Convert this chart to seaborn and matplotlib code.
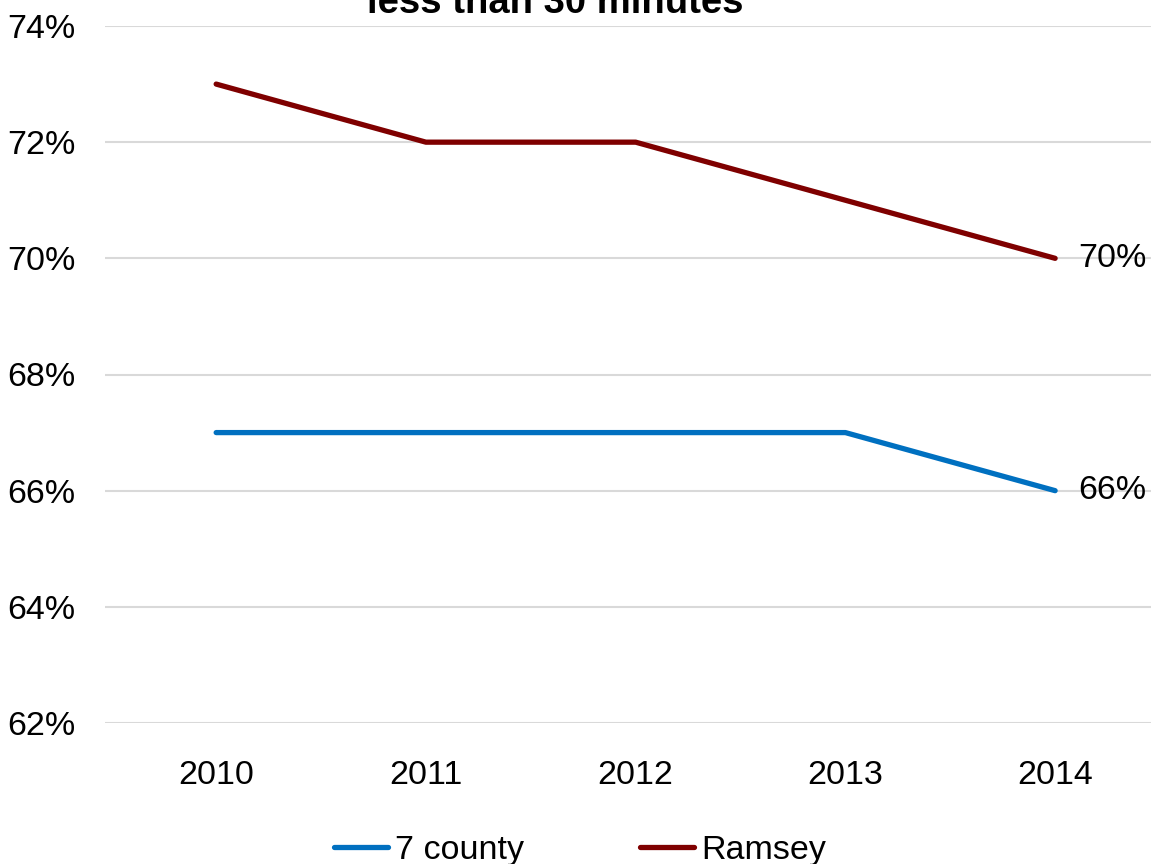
import matplotlib
matplotlib.use("Agg")
import matplotlib.pyplot as plt
import seaborn as sns
import pandas as pd

years = ["2010", "2011", "2012", "2013", "2014"]
seven_county = [67, 67, 67, 67, 66]
ramsey = [73, 72, 72, 71, 70]
series_names = ["7 county", "Ramsey"]
series_colors = ["#0070C0", "#7F0000"]
y_ticks = [62, 64, 66, 68, 70, 72, 74]

df = pd.DataFrame({
    "year": years * 2,
    "pos": list(range(len(years))) * 2,
    "value": seven_county + ramsey,
    "series": [series_names[0]] * len(years) + [series_names[1]] * len(years),
})

sns.set_theme(style="white")
plt.rcParams["font.family"] = ["Liberation Sans", "DejaVu Sans"]
plt.rcParams["text.color"] = "black"
plt.rcParams["xtick.color"] = "black"
plt.rcParams["ytick.color"] = "black"

fig = plt.figure(figsize=(11.51, 8.64), dpi=100)
ax = fig.add_axes([105 / 1151, 1 - 723 / 864, (1160 - 105) / 1151, (723 - 26) / 864])

sns.lineplot(data=df, x="pos", y="value", hue="series", palette=series_colors,
             linewidth=3.8, ax=ax, legend=False)
for line in ax.lines:
    line.set_solid_capstyle("round")
    line.set_solid_joinstyle("round")

ax.set_xlim(-0.53, 4.5)
ax.set_ylim(62, 74)
ax.set_xticks(range(len(years)))
ax.set_xticklabels(years, fontsize=24.5)
ax.set_yticks(y_ticks)
ax.set_yticklabels([f"{v}%" for v in y_ticks], fontsize=24.5)
ax.set_xlabel("")
ax.set_ylabel("")
ax.tick_params(axis="both", length=0)
ax.tick_params(axis="x", pad=27)
ax.tick_params(axis="y", pad=21)
ax.grid(axis="y", color="#D9D9D9", linewidth=1.5)
ax.set_axisbelow(True)
for s in ax.spines.values():
    s.set_visible(False)

# End-of-line value labels
ax.annotate(f"{seven_county[-1]}%", (4, seven_county[-1]), xytext=(17, 0),
            textcoords="offset points", va="center", ha="left", fontsize=24.5)
ax.annotate(f"{ramsey[-1]}%", (4, ramsey[-1]), xytext=(17, 0),
            textcoords="offset points", va="center", ha="left", fontsize=24.5)

fig.text(555 / 1151, 1 - 13 / 864, "less than 30 minutes", ha="center",
         va="baseline", fontsize=27.5, fontweight="bold")

handles = [plt.Line2D([], [], color=c, linewidth=3.8, solid_capstyle="round")
           for c in series_colors]
fig.legend(handles, series_names, loc="center", bbox_to_anchor=(580 / 1151, 1 - 850 / 864),
           ncol=2, frameon=False, fontsize=24.5, handlelength=1.6, handletextpad=0.2,
           columnspacing=3.4)

fig.savefig("out.png", dpi=100)
